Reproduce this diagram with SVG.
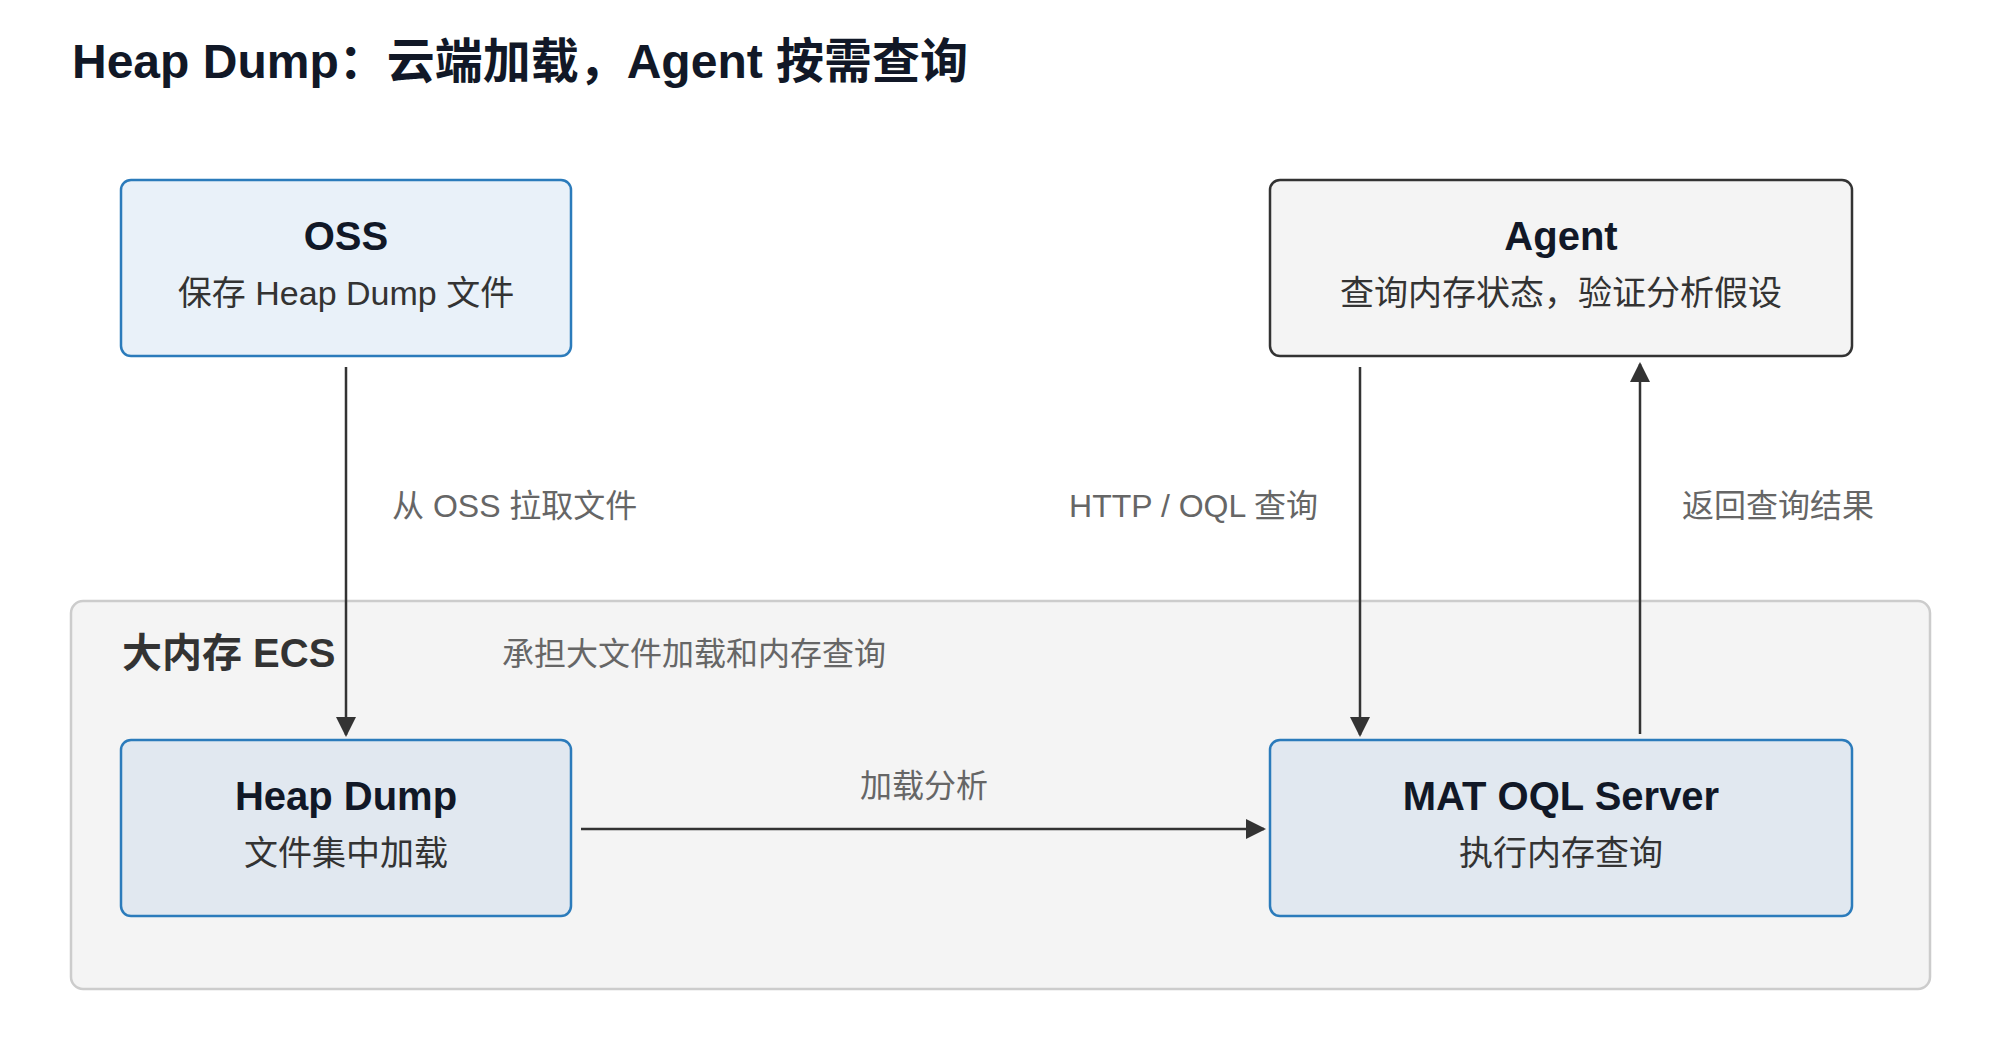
<svg xmlns="http://www.w3.org/2000/svg" width="2000" height="1040" viewBox="0 0 2000 1040">
<style>
text{font-family:"Liberation Sans","Noto Sans CJK SC",sans-serif}
.title{font-size:48px;font-weight:bold;fill:#111827}
.ntitle{font-size:40px;font-weight:bold;fill:#111827;text-anchor:middle}
.nsub{font-size:34px;fill:#333333;text-anchor:middle}
.elabel{font-size:32px;fill:#666666}
.glabel{font-size:40px;font-weight:bold;fill:#333333}
.gsub{font-size:32px;fill:#666666}
.blue{stroke:#2b7bbb;stroke-width:2.5}
.edge{stroke:#333333;stroke-width:2.5;fill:none;marker-end:url(#arrow)}
</style>
<defs>
<marker id="arrow" markerUnits="userSpaceOnUse" markerWidth="20" markerHeight="20" viewBox="0 0 20 20" refX="18" refY="10" orient="auto">
<path d="M0,0 L20,10 L0,20 z" fill="#333333"/>
</marker>
</defs>
<rect width="2000" height="1040" fill="#ffffff"/>
<text class="title" x="72" y="78">Heap Dump：云端加载，Agent 按需查询</text>

<g id="group-ecs">
<rect x="71" y="601" width="1859" height="388" rx="12" fill="#f4f4f4" stroke="#cccccc" stroke-width="2.5"/>
<text class="glabel" x="122" y="667">大内存 ECS</text>
<text class="gsub" x="502" y="665">承担大文件加载和内存查询</text>
</g>

<g id="node-oss">
<rect class="blue" x="121" y="180" width="450" height="176" rx="10" fill="#e9f1f9"/>
<text class="ntitle" x="346" y="250">OSS</text>
<text class="nsub" x="346" y="305">保存 Heap Dump 文件</text>
</g>

<g id="node-agent">
<rect x="1270" y="180" width="582" height="176" rx="10" fill="#f4f4f4" stroke="#333333" stroke-width="2.5"/>
<text class="ntitle" x="1561" y="250">Agent</text>
<text class="nsub" x="1561" y="305">查询内存状态，验证分析假设</text>
</g>

<g id="node-heapdump">
<rect class="blue" x="121" y="740" width="450" height="176" rx="10" fill="#e1e8f0"/>
<text class="ntitle" x="346" y="810">Heap Dump</text>
<text class="nsub" x="346" y="865">文件集中加载</text>
</g>

<g id="node-mat">
<rect class="blue" x="1270" y="740" width="582" height="176" rx="10" fill="#e1e8f0"/>
<text class="ntitle" x="1561" y="810">MAT OQL Server</text>
<text class="nsub" x="1561" y="865">执行内存查询</text>
</g>

<g id="connectors">
<line class="edge" x1="346" y1="367" x2="346" y2="735"/>
<text class="elabel" x="392" y="517">从 OSS 拉取文件</text>
<line class="edge" x1="581" y1="829" x2="1264" y2="829"/>
<text class="elabel" x="924" y="797" text-anchor="middle">加载分析</text>
<line class="edge" x1="1360" y1="367" x2="1360" y2="735"/>
<text class="elabel" x="1318" y="517" text-anchor="end">HTTP / OQL 查询</text>
<line class="edge" x1="1640" y1="734" x2="1640" y2="364"/>
<text class="elabel" x="1682" y="517">返回查询结果</text>
</g>
</svg>
